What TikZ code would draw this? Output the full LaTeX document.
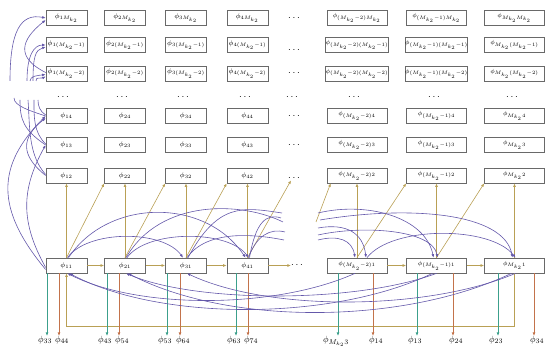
\documentclass[tikz,border=0pt]{standalone}
\usetikzlibrary{arrows.meta}
\definecolor{oli}{RGB}{185,160,85}
\definecolor{pur}{RGB}{100,88,170}
\definecolor{tea}{RGB}{60,160,140}
\definecolor{brn}{RGB}{195,115,75}
\definecolor{bdr}{RGB}{105,105,105}
\begin{document}
\begin{tikzpicture}[x=1pt,y=1pt,
 bx/.style={draw=bdr,line width=0.7pt,fill=white,minimum height=15pt,inner sep=0pt,font=\fontsize{7.5}{8}\selectfont},
 nar/.style={bx,minimum width=41pt},
 wid/.style={bx,minimum width=60pt,font=\fontsize{6.5}{7}\selectfont},
 dts/.style={inner sep=0pt,font=\fontsize{10}{10}\selectfont},
 tip/.style={-{Latex[length=3.5pt,width=2.8pt]}},
 oa/.style={draw=oli,line width=0.6pt,tip},
 pa/.style={draw=pur,line width=0.6pt,tip},
 pl/.style={draw=pur,line width=0.6pt},
 ta/.style={draw=tea,line width=0.7pt,tip},
 ba/.style={draw=brn,line width=0.7pt,tip},
 lab/.style={font=\fontsize{9.5}{11}\selectfont,inner sep=0pt,anchor=north}
]
\useasboundingbox (0,0) rectangle (550,358);

% boxes
\foreach \c/\x/\st/\ci in {1/66.5/nar/1,2/125/nar/2,3/186/nar/3,4/247.5/nar/4,5/357/wid/{(M_{k_2}-2)},6/436.5/wid/{(M_{k_2}-1)},7/514.5/wid/{M_{k_2}}}{
  \foreach \r/\y/\ri in {1/340/{M_{k_2}},2/313/{(M_{k_2}-1)},3/284.5/{(M_{k_2}-2)},4/242/4,5/213/3,6/182.5/2}{
    \node[\st] (t\c\r) at (\x,\y) {$\phi_{\ci\ri}$};
  }
  \node[\st] (b\c) at (\x,92.5) {$\phi_{\ci1}$};
}

% dots
\foreach \y [count=\i] in {340,308,284.5,242,213,180}{
  \node[dts] (dd\i) at (294,\y) {$\cdots$};
}
\foreach \x [count=\i] in {63,122,183,245,292,354,434,512}{
  \node[dts] (dr\i) at (\x,261) {$\cdots$};
}
\node[dts] (bdots) at (297,92.5) {$\cdots$};

% olive horizontal
\draw[oa] (b1) -- (b2);
\draw[oa] (b2) -- (b3);
\draw[oa] (b3) -- (b4);
\draw[oa] (b4) -- (bdots);
\draw[oa] (b5) -- (b6);
\draw[oa] (b6) -- (b7);
% olive vertical
\foreach \c in {1,...,7}{ \draw[oa] (b\c) -- (t\c6); }
% olive diagonal
\draw[oa] (b1.north) -- (t26.south west);
\draw[oa] (b2.north) -- (t36.south west);
\draw[oa] (b3.north) -- (t46.south west);
\draw[oa] (b4.north) -- ([xshift=-3pt]dd6.south);
\coordinate (gs) at (316,136);
\draw[oa] (gs) -- ([xshift=4pt]t56.south west);
\draw[oa] (b5.north) -- (t66.south west);
\draw[oa] (b6.north) -- (t76.south west);
% olive loop
\draw[oa] (b7.south) -- ++(0,-53) -| (b1.south);

% teal / brown outputs
\foreach \c/\tx/\bx/\tl/\bl in {1/47/59/33/44,2/107/119/43/54,3/167/180/53/64,4/236/248/63/74,5/338/373/{M_{k_2}3}/14,6/417/453/13/24,7/498/534/23/34}{
  \node[lab] (lt\c) at (\tx-2,22) {$\phi_{\tl}$};
  \node[lab] (lb\c) at (\bx+3,22) {$\phi_{\bl}$};
  \draw[ta] (b\c.south -| \tx,0) -- (lt\c.north -| \tx,0);
  \draw[ba] (b\c.south -| \bx,0) -- (lb\c.north -| \bx,0);
}

% purple upper arcs
\draw[pa] ([xshift=1pt]b1.north) .. controls +(20,28) and +(-20,28) .. ([xshift=-3pt]b3.north);
\draw[pa] ([xshift=2pt]b1.north) .. controls +(40,60) and +(-40,60) .. ([xshift=-2pt]b4.north);
\draw[pa] ([xshift=2pt]b2.north) .. controls +(20,28) and +(-20,28) .. ([xshift=1pt]b4.north);
\coordinate (g1) at (283,136);
\coordinate (g2) at (284,118);
\coordinate (g3) at (282,145);
\coordinate (g4) at (285,126);
\coordinate (g5) at (281,140);
\draw[pl] ([xshift=1pt]b2.north) .. controls +(35,60) and +(-40,20) .. (g1);
\draw[pl] ([xshift=1pt]b3.north) .. controls +(20,28) and +(-30,6) .. (g2);
\draw[pl] ([xshift=2pt]b3.north) .. controls +(30,55) and +(-40,6) .. (g3);
\draw[pl] ([xshift=1pt]b4.north) .. controls +(8,22) and +(-15,4) .. (g4);
\draw[pl] ([xshift=2pt]b4.north) .. controls +(6,35) and +(-15,5) .. (g5);
\coordinate (h1) at (318,118);
\coordinate (h2) at (318,130);
\coordinate (h3) at (318,145);
\coordinate (h4) at (318,123);
\coordinate (h5) at (320,138);
\draw[pa] (h1) .. controls +(20,5) and +(-3,18) .. ([xshift=-2pt]b5.north);
\draw[pa] (h2) .. controls +(28,5) and +(-3,25) .. ([xshift=9pt]b5.north);
\draw[pa] (h3) .. controls +(50,12) and +(-8,40) .. ([xshift=-3pt]b6.north);
\draw[pa] (h4) .. controls +(45,10) and +(-5,28) .. ([xshift=1pt]b6.north);
\draw[pa] (h5) .. controls +(90,15) and +(-8,45) .. ([xshift=-2pt]b7.north);
\draw[pa] ([xshift=10pt]b5.north) .. controls +(25,32) and +(-25,32) .. ([xshift=1pt]b7.north);

% purple lower arcs
\draw[pa] ([xshift=-2pt]b5.south) .. controls +(-80,-36) and +(70,-36) .. ([xshift=1pt]b1.south);
\draw[pa] ([xshift=-4pt]b6.south) .. controls +(-100,-48) and +(90,-48) .. ([xshift=3pt]b1.south);
\draw[pa] (b6.south) .. controls +(-80,-30) and +(70,-30) .. ([xshift=1pt]b2.south);
\draw[pa] ([xshift=-3pt]b7.south) .. controls +(-110,-52) and +(100,-52) .. ([xshift=3pt]b2.south);
\draw[pa] ([xshift=1pt]b7.south) .. controls +(-90,-38) and +(80,-38) .. ([xshift=1pt]b3.south);

% purple left arcs
\draw[pa] ([yshift=-2pt]b1.west) .. controls +(-25,45) and +(-25,-45) .. (t15.west);
\draw[pa] ([yshift=-4pt]b1.west) .. controls +(-50,60) and +(-50,-50) .. (t14.west);
\draw[pa] (t16.west) .. controls +(-25,20) and +(-25,-20) .. ([yshift=-2pt]t14.west);
\coordinate (v1) at (28,258);
\coordinate (v2) at (20,258);
\coordinate (v3) at (34,258);
\coordinate (v4) at (14,260);
\coordinate (v5) at (38,258);
\draw[pl] ([yshift=1pt]t16.west) .. controls +(-18,20) and +(2,-25) .. (v1);
\draw[pl] (t15.west) .. controls +(-22,15) and +(0,-20) .. (v2);
\draw[pl] ([yshift=1pt]t15.west) .. controls +(-12,12) and +(0,-18) .. (v3);
\draw[pl] (t14.west) .. controls +(-15,5) and +(0,-8) .. (v4);
\draw[pl] ([yshift=1pt]t14.west) .. controls +(-6,4) and +(0,-6) .. (v5);
\coordinate (u1) at (10,277);
\coordinate (u2) at (27,277);
\coordinate (u3) at (30,277);
\coordinate (u4) at (33,277);
\coordinate (u5) at (36,277);
\draw[pa] (u1) .. controls +(0,50) and +(-25,5) .. (t11.west);
\draw[pa] (u2) .. controls +(0,25) and +(-12,0) .. (t12.west);
\draw[pa] (u3) .. controls +(0,5) and +(-8,-1) .. ([yshift=-1pt]t13.west);
\draw[pa] (u4) .. controls +(0,25) and +(-10,-3) .. ([yshift=-2pt]t12.west);
\draw[pa] (u5) .. controls +(0,5) and +(-6,-3) .. ([yshift=-3pt]t13.west);
\draw[pa] ([yshift=1pt]t13.west) .. controls +(-30,15) and +(-25,-20) .. ([yshift=-2pt]t11.west);
\end{tikzpicture}
\end{document}
